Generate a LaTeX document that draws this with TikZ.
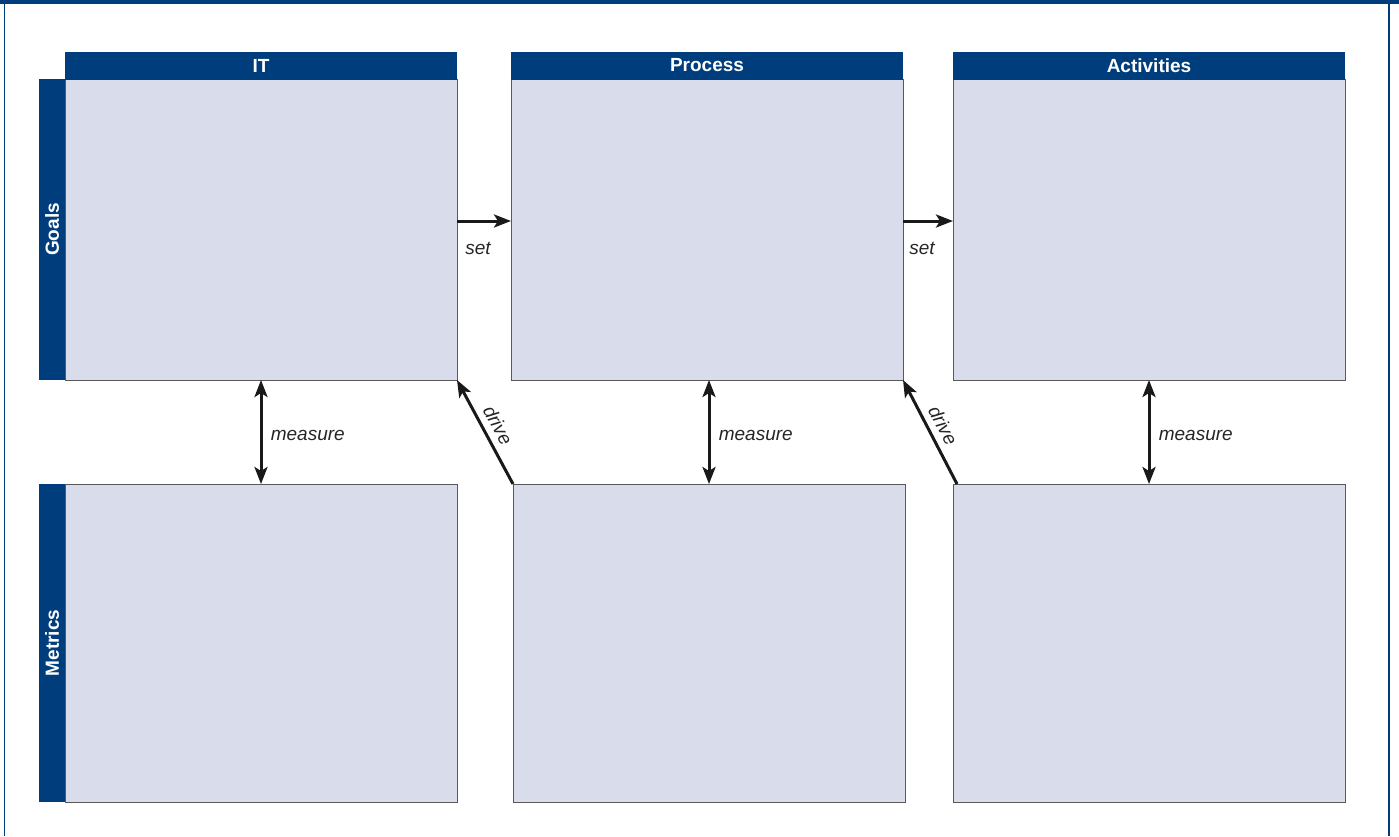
\documentclass[tikz,border=0pt]{standalone}
\usepackage{fontspec}
\setmainfont{Liberation Sans}
\usetikzlibrary{arrows.meta,calc}
\definecolor{navy}{RGB}{0,61,125}
\definecolor{pale}{RGB}{217,220,234}
\begin{document}
\begin{tikzpicture}[x=1pt,y=-1pt,
  every node/.style={font=\fontsize{19}{22}\selectfont},
  gbox/.style={draw=black!65, line width=0.9pt, fill=pale, anchor=north west,
    minimum width=392pt, minimum height=301pt, inner sep=0pt, outer sep=0pt},
  mbox/.style={gbox, minimum height=318pt},
  header/.style={fill=navy, text=white, font=\fontsize{19}{22}\selectfont\bfseries,
    anchor=south west, minimum width=392pt, minimum height=28pt, inner sep=0pt, outer sep=0pt},
  sidebar/.style={fill=navy, text=white, font=\fontsize{19}{22}\selectfont\bfseries,
    rotate=90, minimum height=26pt, inner sep=0pt, outer sep=0pt},
  tip/.tip={Stealth[length=17pt,width=13pt,inset=4pt]},
  arr/.style={draw=black!90, line width=3pt, -tip},
  darr/.style={draw=black!90, line width=3pt, tip-tip},
  lbl/.style={font=\fontsize{19}{22}\selectfont\itshape, text=black!85},
  frame/.style={draw=navy, line width=1.8pt}
]
\useasboundingbox (0,0) rectangle (1399,836);
% outer frame
\fill[navy] (0,0) rectangle (1399,4);
\draw[frame] (4.5,0) -- (4.5,836);
\draw[frame] (1389,0) -- (1389,836);

% goals boxes
\node[gbox] (g1) at (65,79) {};
\node[gbox] (g2) at (511,79) {};
\node[gbox] (g3) at (953,79) {};
% metrics boxes
\node[mbox] (m1) at (65,484) {};
\node[mbox] (m2) at (513,484) {};
\node[mbox] (m3) at (953,484) {};
% headers
\node[header] (h1) at (65,79.5) {IT};
\node[header] (h2) at (511,79.5) {Process};
\node[header] (h3) at (953,79.5) {Activities};
% side bars
\node[sidebar, minimum width=301pt] (sg) at (52,229.5) {Goals};
\node[sidebar, minimum width=318pt] (sm) at (52,643) {Metrics};

% set arrows
\coordinate (sety) at (0,221);
\draw[arr] (g1.east |- sety) -- (g2.west |- sety);
\draw[arr] (g2.east |- sety) -- (g3.west |- sety);
\node[lbl] (set1) at (478,248) {set};
\node[lbl] (set2) at (922,248) {set};

% measure arrows
\draw[darr] (g1.south) -- node[lbl, right=5pt, yshift=-3pt] (ms1) {measure} (m1.north);
\draw[darr] (m2.north |- g2.south) -- node[lbl, right=5pt, yshift=-3pt] (ms2) {measure} (m2.north);
\draw[darr] (g3.south) -- node[lbl, right=5pt, yshift=-3pt] (ms3) {measure} (m3.north);

% drive arrows
\coordinate (d2s) at ($(m3.north west)+(4,0)$);
\draw[arr] (m2.north west) -- node[lbl, pos=0.5, sloped, above=3pt] (d1) {drive} (g1.south east);
\draw[arr] (d2s) -- node[lbl, pos=0.5, sloped, above=3pt] (d2) {drive} (g2.south east);
\end{tikzpicture}
\end{document}
